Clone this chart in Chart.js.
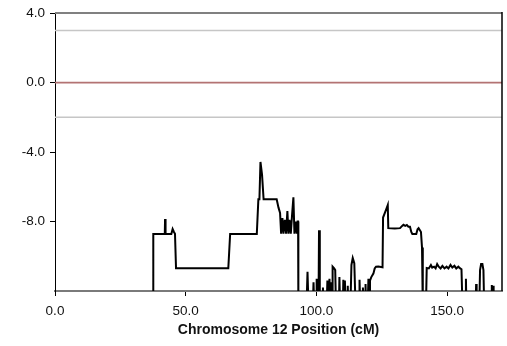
<!DOCTYPE html>
<html><head><meta charset="utf-8">
<script src="https://cdn.jsdelivr.net/npm/chart.js@4/dist/chart.umd.min.js"></script>
<style>html,body{margin:0;padding:0;background:#fff}#wrap{width:507px;height:346px;position:relative}canvas{display:block}</style>
</head><body><div id="wrap"><canvas id="c" width="507" height="346"></canvas></div>
<script>
// Chromosome 12 position (cM) and curve values (-13 = below visible range)
const positions = [
  0, 37.5, 37.6, 42.0, 42.1, 42.3, 44.5, 45.0, 45.5, 45.9, 46.3, 66.3,
  67.0, 77.2, 77.8, 78.2, 78.6, 79.2, 79.8, 84.8, 85.5, 86.1,
  86.5, 87.0, 87.4, 87.9, 88.4, 88.9, 89.3, 89.7, 90.2, 90.7,
  91.2, 91.6, 92.0, 92.5, 92.8, 93.0, 93.1, 96.2, 96.6, 97.0,
  98.6, 98.9, 99.2, 99.9, 100.1, 100.4, 100.8, 101.0, 101.3, 102.3, 102.5, 102.7, 103.9,
  104.2, 104.6, 105.0, 105.4, 105.8, 106.0, 106.2, 106.8, 107.2, 107.5,
  108.6, 108.8, 109.1, 110.1, 110.3, 110.6, 110.9, 111.2, 111.8, 112.0, 112.2, 113.0, 113.4,
  113.9, 114.5, 115.0, 116.3, 116.5, 116.8, 117.6, 117.8, 118.0, 118.6, 118.8, 119.0, 119.6, 119.9, 120.2, 120.5,
  121.0, 121.8, 122.3, 122.8, 123.7, 125.3, 125.5, 126.7, 127.3, 127.5,
  130.0, 132.0, 132.8, 133.3, 134.0, 134.6, 135.2, 135.8, 136.3, 136.7,
  138.2, 138.7, 139.1, 139.6, 140.0, 140.4, 140.7, 141.9, 142.2, 143.0,
  143.8, 144.3, 145.0, 145.6, 146.2, 146.8, 147.5, 148.2, 149.0, 149.8,
  150.5, 151.3, 152.0, 152.8, 153.5, 154.3, 155.0, 155.5, 155.9, 157.0,
  157.2, 157.4, 160.9, 161.1, 161.3, 162.3, 162.6, 163.0, 163.5, 163.9,
  164.2, 166.9, 167.1, 167.3, 167.6, 167.8, 170
];
const values = [
  -13, -13, -8.72, -8.72, -7.86, -8.72, -8.72, -8.43, -8.6, -8.7, -10.69, -10.69,
  -8.72, -8.72, -6.72, -6.72, -4.57, -5.3, -6.72, -6.72, -7.2, -7.5,
  -8.7, -7.8, -8.7, -7.9, -8.7, -7.4, -8.7, -7.9, -8.7, -7.6,
  -6.6, -8.7, -8.0, -8.7, -8.0, -8.0, -13, -13, -10.9, -13,
  -13, -11.5, -13, -13, -11.3, -13, -13, -8.5, -13, -13, -11.8, -13, -13,
  -11.4, -13, -11.3, -13, -11.5, -13, -10.6, -10.7, -10.8, -13,
  -13, -11.2, -13, -13, -11.35, -13, -11.4, -13, -13, -11.7, -13, -13, -10.5,
  -10.1, -10.4, -13, -13, -11.35, -13, -13, -11.8, -13, -13, -11.6, -13, -13, -11.3, -13, -11.4,
  -11.2, -11.0, -10.7, -10.6, -10.59, -10.63, -7.77, -7.3, -7.05, -8.38,
  -8.4, -8.38, -8.25, -8.19, -8.25, -8.2, -8.3, -8.3, -8.6, -8.72,
  -8.72, -8.45, -8.38, -8.5, -8.6, -9.5, -13, -13, -10.67, -10.7,
  -10.5, -10.65, -10.6, -10.7, -10.45, -10.6, -10.7, -10.55, -10.7, -10.6,
  -10.7, -10.5, -10.65, -10.55, -10.7, -10.6, -10.7, -10.75, -13, -13,
  -11.3, -13, -13, -11.6, -13, -13, -10.8, -10.45, -10.45, -10.8,
  -13, -13, -11.66, -13, -11.7, -13, -13
];
const xTicks = [0, 50, 100, 150];
const yTicks = [4, 0, -4, -8];
const thresholdValues = [3, 0, -2];
const thresholdColors = ['#c6c6c6', '#b37373', '#c6c6c6'];
const xMin = 0, xMax = 171, yMin = -12, yMax = 4;

const FONT = '"Liberation Sans", Arial, Helvetica, sans-serif';
const curve = positions.map((x, i) => ({x: x, y: values[i]}));
const thresholdSets = thresholdValues.map((v, i) => ({
  data: [{x: xMin, y: v}, {x: xMax, y: v}],
  borderColor: thresholdColors[i], borderWidth: 1.6, pointRadius: 0, clip: 0, order: 2
}));

const framePlugin = {
  id: 'frame',
  afterDatasetsDraw(chart) {
    const a = chart.chartArea, ctx = chart.ctx;
    ctx.save();
    ctx.strokeStyle = '#808080'; ctx.lineWidth = 2;
    ctx.beginPath(); ctx.moveTo(a.left, a.top); ctx.lineTo(a.right, a.top); ctx.stroke();
    ctx.strokeStyle = '#000'; ctx.lineWidth = 1.5;
    ctx.beginPath(); ctx.moveTo(a.right, a.top - 1); ctx.lineTo(a.right, a.bottom); ctx.stroke();
    ctx.restore();
  }
};

new Chart(document.getElementById('c'), {
  type: 'line',
  data: {
    datasets: [
      {data: curve, borderColor: '#000', borderWidth: 2, pointRadius: 0, tension: 0, clip: 0, order: 1},
      ...thresholdSets
    ]
  },
  options: {
    responsive: false, animation: false, devicePixelRatio: 1,
    layout: {padding: {top: 11, right: 5, left: 0, bottom: 0}},
    plugins: {legend: {display: false}, tooltip: {enabled: false}},
    scales: {
      x: {
        type: 'linear', min: xMin, max: xMax,
        afterBuildTicks: s => { s.ticks = xTicks.map(v => ({value: v})); },
        afterFit: s => { s.height = 55; },
        ticks: {callback: v => Number(v).toFixed(1), font: {family: FONT, size: 13.5}, color: '#111', padding: 7, maxRotation: 0, autoSkip: false},
        grid: {drawOnChartArea: false, drawTicks: true, tickLength: 5, color: '#000', lineWidth: 1},
        border: {color: '#7a7a7a', width: 2},
        title: {display: true, text: 'Chromosome 12 Position (cM)', font: {family: FONT, size: 14, weight: 'bold'}, color: '#111', padding: {top: 0, bottom: 7}}
      },
      y: {
        type: 'linear', min: yMin, max: yMax,
        afterBuildTicks: s => { s.ticks = yTicks.map(v => ({value: v})); },
        afterFit: s => { s.width = 55; },
        ticks: {callback: v => Number(v).toFixed(1), font: {family: FONT, size: 13.5}, color: '#111', padding: 5},
        grid: {drawOnChartArea: false, drawTicks: true, tickLength: 5, color: '#000', lineWidth: 1},
        border: {color: '#000', width: 1}
      }
    }
  },
  plugins: [framePlugin]
});
</script>
</body></html>
